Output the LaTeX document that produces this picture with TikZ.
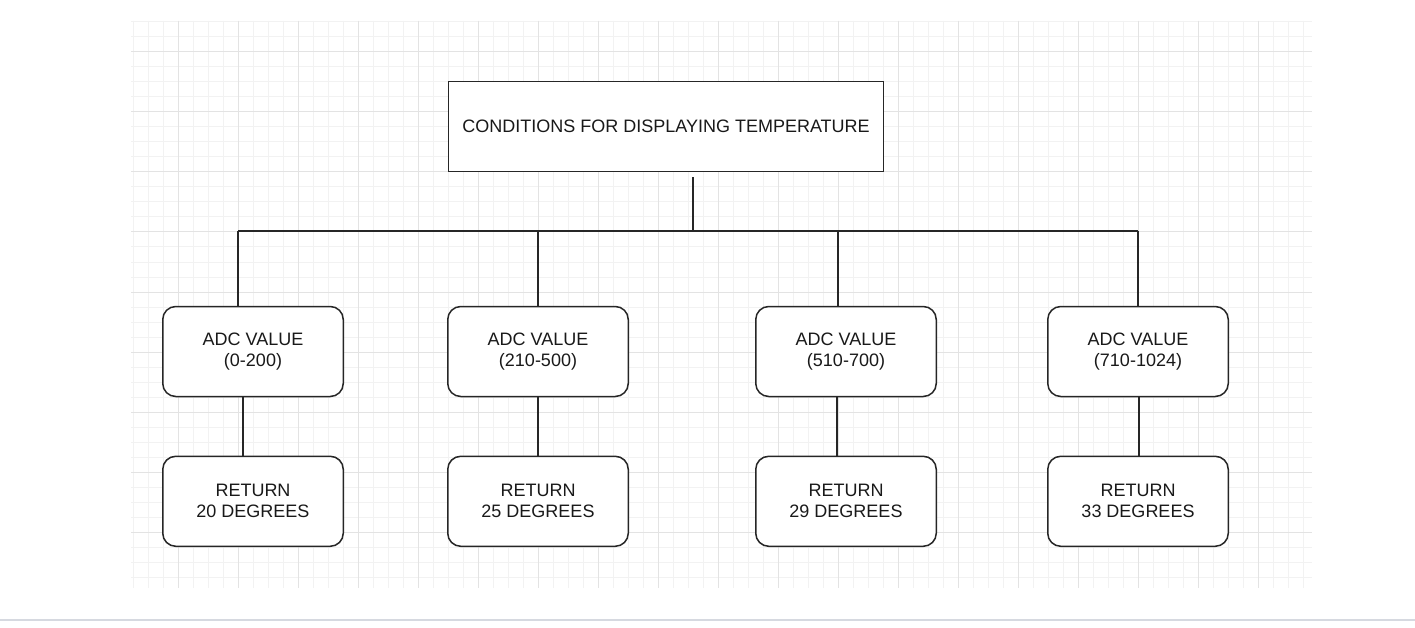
\documentclass[tikz,border=0pt]{standalone}
\usepackage{fontspec}
\setmainfont{Liberation Sans}
\begin{document}
\begin{tikzpicture}[x=1pt,y=-1pt,
  minorline/.style={draw=black!5,line width=1pt},
  majorline/.style={draw=black!11,line width=1pt},
  boxbase/.style={draw=black!85,line width=1.5pt,fill=white,align=center,
    font=\fontsize{18}{21}\selectfont,text=black!90,inner sep=0pt},
  topbox/.style={boxbase,minimum width=435pt,minimum height=90pt},
  roundbox/.style={boxbase,rounded corners=13pt,minimum width=180.5pt,minimum height=90pt},
  link/.style={draw=black!85,line width=1.5pt}]
\useasboundingbox (0,0) rectangle (1415,628);
\fill[white] (0,0) rectangle (1415,628);
% grid
\foreach \x in {133,148,...,1303} \draw[minorline] (\x,21) -- (\x,587.5);
\foreach \y in {22,37,...,577} \draw[minorline] (131,\y) -- (1312,\y);
\foreach \x in {178,238,...,1298} \draw[majorline] (\x,21) -- (\x,587.5);
\foreach \y in {52,112,...,532} \draw[majorline] (131,\y) -- (1312,\y);
% bottom bar line
\draw[line width=1.5pt, draw={rgb,255:red,214;green,217;blue,224}] (0,620) -- (1415,620);
% nodes
\node[topbox] (top) at (666,126.5) {CONDITIONS FOR DISPLAYING TEMPERATURE};
\node[roundbox] (a1) at (253,351.5) {ADC VALUE\\(0-200)};
\node[roundbox] (a2) at (538,351.5) {ADC VALUE\\(210-500)};
\node[roundbox] (a3) at (846,351.5) {ADC VALUE\\(510-700)};
\node[roundbox] (a4) at (1138,351.5) {ADC VALUE\\(710-1024)};
\node[roundbox] (r1) at (253,501.3) {RETURN\\20 DEGREES};
\node[roundbox] (r2) at (538,501.3) {RETURN\\25 DEGREES};
\node[roundbox] (r3) at (846,501.3) {RETURN\\29 DEGREES};
\node[roundbox] (r4) at (1138,501.3) {RETURN\\33 DEGREES};
% bus
\coordinate (hub) at (693,231);
\coordinate (b1) at (238,231);
\coordinate (b2) at (538,231);
\coordinate (b3) at (838,231);
\coordinate (b4) at (1138,231);
\draw[link] ([xshift=27pt,yshift=-5pt]top.south) -- (hub);
\draw[link] (b1) -- (b4);
\draw[link] (b1) -- (b1 |- a1.north);
\draw[link] (b2) -- (b2 |- a2.north);
\draw[link] (b3) -- (b3 |- a3.north);
\draw[link] (b4) -- (b4 |- a4.north);
% lower links
\draw[link] ([xshift=-10pt]a1.south) -- ([xshift=-10pt]r1.north);
\draw[link] (a2.south) -- (r2.north);
\draw[link] ([xshift=-9pt]a3.south) -- ([xshift=-9pt]r3.north);
\draw[link] ([xshift=1pt]a4.south) -- ([xshift=1pt]r4.north);
\end{tikzpicture}
\end{document}
